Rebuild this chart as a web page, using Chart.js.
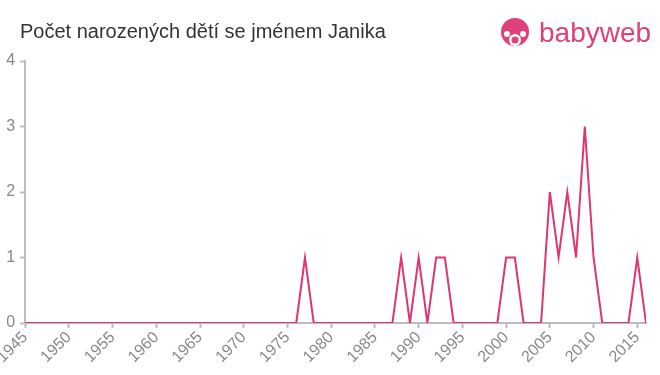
<!DOCTYPE html>
<html>
<head>
<meta charset="utf-8">
<script src="https://cdn.jsdelivr.net/npm/chart.js@4.4.0/dist/chart.umd.min.js"></script>
<style>
    body { margin: 0; background: #fff; font-family: "Liberation Sans", Arial, sans-serif; }
    #wrap { position: relative; width: 660px; height: 375px; }
    #title { position: absolute; left: 20px; top: 20px; font-size: 20px; color: #333; }
    #logo { position: absolute; left: 499px; top: 16px; height: 34px; display: flex; align-items: center; }
    #logo span { color: #e0407a; font-size: 28px; margin-left: 8px; }
    #chart { position: absolute; left: 0; top: 0; }
</style>
</head>
<body>
<div id="wrap">
    <canvas id="chart" width="660" height="375"></canvas>
    <div id="title">Počet narozených dětí se jménem Janika</div>
    <div id="logo">
        <svg width="32" height="32" viewBox="0 0 32 32">
            <circle cx="16" cy="15" r="14" fill="#e0407a"/>
            <circle cx="16" cy="23" r="6" fill="#fff"/>
            <circle cx="16" cy="23" r="3.5" fill="#e0407a"/>
            <circle cx="8" cy="17" r="3" fill="#fff"/>
            <circle cx="24" cy="17" r="3" fill="#fff"/>
        </svg>
        <span>babyweb</span>
    </div>
</div>
<script>
const years = [];
for (let y = 1945; y <= 2016; y++) years.push(y);

// pocty narozenych podle roku (1945 - 2016)
const counts = [
    0, 0, 0, 0, 0, 0, 0, 0, 0, 0,   // 1945-1954
    0, 0, 0, 0, 0, 0, 0, 0, 0, 0,   // 1955-1964
    0, 0, 0, 0, 0, 0, 0, 0, 0, 0,   // 1965-1974
    0, 0, 1, 0, 0, 0, 0, 0, 0, 0,   // 1975-1984
    0, 0, 0, 1, 0, 1, 0, 1, 1, 0,   // 1985-1994
    0, 0, 0, 0, 0, 1, 1, 0, 0, 0,   // 1995-2004
    2, 1, 2, 1, 3, 1, 0, 0, 0, 0,   // 2005-2014
    1, 0                            // 2015-2016
];

const yTicks = [0, 1, 2, 3, 4];
const lineColor = '#e0356f';
const tickColor = '#888';
const axisColor = '#bbb';

const points = years.map((y, i) => ({ x: y, y: counts[i] }));

new Chart(document.getElementById('chart').getContext('2d'), {
    type: 'line',
    data: {
        datasets: [{
            data: points,
            borderColor: lineColor,
            borderWidth: 2,
            pointRadius: 0,
            tension: 0,
            fill: false
        }]
    },
    options: {
        responsive: false,
        animation: false,
        layout: { padding: { top: 61, right: 14, left: 0, bottom: 0 } },
        plugins: { legend: { display: false }, tooltip: { enabled: false } },
        scales: {
            x: {
                type: 'linear',
                min: 1945,
                max: 2016,
                afterFit: function (scale) { scale.height = 52; },
                afterBuildTicks: function (scale) {
                    scale.ticks = [];
                    for (let v = 1945; v <= 2015; v += 5) scale.ticks.push({ value: v });
                },
                grid: { display: true, drawOnChartArea: false, drawTicks: true, tickLength: 5, tickWidth: 2, tickColor: axisColor },
                border: { color: axisColor, width: 2 },
                ticks: {
                    color: tickColor,
                    font: { family: '"Liberation Sans", Arial, sans-serif', size: 16 },
                    minRotation: 45,
                    maxRotation: 45,
                    padding: 0,
                    callback: v => String(v)
                }
            },
            y: {
                min: 0,
                max: 4,
                afterFit: function (scale) { scale.width = 24; },
                afterBuildTicks: function (scale) {
                    scale.ticks = yTicks.map(v => ({ value: v }));
                },
                grid: { display: true, drawOnChartArea: false, drawTicks: true, tickLength: 5, tickWidth: 2, tickColor: axisColor },
                border: { color: axisColor, width: 2 },
                ticks: {
                    color: tickColor,
                    font: { family: '"Liberation Sans", Arial, sans-serif', size: 16 },
                    padding: 5
                }
            }
        }
    }
});
</script>
</body>
</html>
